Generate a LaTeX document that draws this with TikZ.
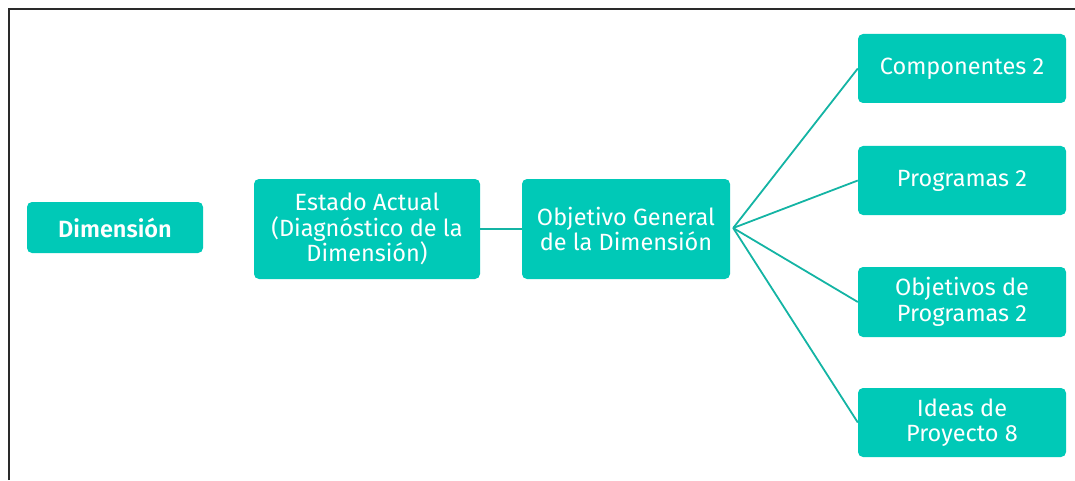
\documentclass[tikz,border=0pt]{standalone}
\usepackage{fontspec}
\setmainfont{Fira Sans}[BoldFont={Fira Sans SemiBold}]
\definecolor{boxfill}{HTML}{00C9B7}
\definecolor{linkcol}{HTML}{14B4A4}
\definecolor{framecol}{HTML}{2A2A2A}
\begin{document}
\begin{tikzpicture}[x=1pt,y=1pt,
  box/.style={fill=boxfill,rounded corners=5pt,text=white,align=center,
    inner sep=0pt,font=\fontsize{23.5}{25.5}\selectfont},
  link/.style={draw=linkcol,line width=1.8pt}]
\useasboundingbox (0,0) rectangle (1075,480);
\draw[framecol,line width=1.5pt] (9,0) -- (9,471) -- (1075,471);
\node[box,minimum width=176pt,minimum height=51pt,font=\fontsize{23.5}{25.5}\selectfont\bfseries] (dim) at (115,252.5) {Dimensión};
\node[box,minimum width=226pt,minimum height=100pt] (est) at (367,251) {Estado Actual\\(Diagnóstico de la\\Dimensión)};
\node[box,minimum width=208pt,minimum height=100pt] (obj) at (626,251) {Objetivo General\\de la Dimensión};
\node[box,minimum width=208pt,minimum height=69pt] (comp) at (962,411.5) {Componentes 2};
\node[box,minimum width=208pt,minimum height=69pt] (prog) at (962,299.5) {Programas 2};
\node[box,minimum width=208pt,minimum height=70pt] (objp) at (962,178) {Objetivos de\\Programas 2};
\node[box,minimum width=208pt,minimum height=69pt] (ideas) at (962,57.5) {Ideas de\\Proyecto 8};
\coordinate (hub) at ([xshift=3pt,yshift=1pt]obj.east);
\draw[link] (est.east) -- (obj.west);
\draw[link] (hub) -- (comp.west);
\draw[link] (hub) -- (prog.west);
\draw[link] (hub) -- (objp.west);
\draw[link] (hub) -- (ideas.west);
\end{tikzpicture}
\end{document}
